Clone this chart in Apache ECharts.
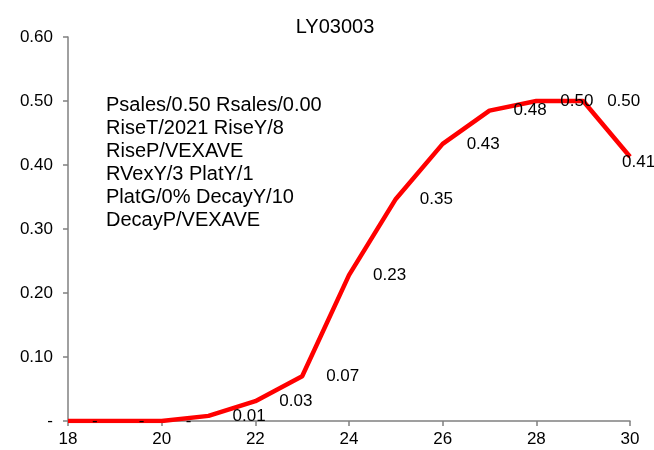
<!DOCTYPE html>
<html>
<head>
<meta charset="utf-8">
<script src="https://cdn.jsdelivr.net/npm/echarts@6/dist/echarts.min.js"></script>
<style>html,body{margin:0;padding:0;background:#fff}#c{width:654px;height:450px}</style>
</head>
<body>
<div id="c"></div>
<script>
var titleText = 'LY03003';
var years = [18, 19, 20, 21, 22, 23, 24, 25, 26, 27, 28, 29, 30];
var values = [0, 0, 0, 0.008, 0.031, 0.070, 0.228, 0.347, 0.433, 0.485, 0.500, 0.500, 0.413];
var noteLines = [
  'Psales/0.50 Rsales/0.00',
  'RiseT/2021 RiseY/8',
  'RiseP/VEXAVE',
  'RVexY/3 PlatY/1',
  'PlatG/0% DecayY/10',
  'DecayP/VEXAVE'
];
var yTicks = [0, 0.1, 0.2, 0.3, 0.4, 0.5, 0.6];

var FONT = '"Liberation Sans", Arial, sans-serif';
function fmt(v) { return Math.abs(v) < 1e-9 ? '-' : v.toFixed(2); }

var seriesData = years.map(function (x, i) {
  var item = { value: [x, values[i]] };
  if (i === years.length - 1) {
    item.label = { position: [-8, -3], align: 'left', verticalAlign: 'top' };
  }
  return item;
});

var chart = echarts.init(document.getElementById('c'), null, { renderer: 'canvas' });
chart.setOption({
  animation: false,
  backgroundColor: '#ffffff',
  title: {
    text: titleText,
    left: 330, top: 12, textAlign: 'center',
    textStyle: { fontFamily: FONT, fontSize: 20, fontWeight: 'normal', color: '#000' }
  },
  grid: { left: 68, top: 37, width: 562, height: 384 },
  xAxis: {
    type: 'value', min: 18, max: 30, interval: 2,
    axisLine: { lineStyle: { color: '#808080', width: 1.5 } },
    axisTick: { show: true, length: 5, lineStyle: { color: '#808080', width: 1.5 } },
    splitLine: { show: false },
    axisLabel: { fontFamily: FONT, fontSize: 17, color: '#000', margin: 10 }
  },
  yAxis: {
    type: 'value', min: 0, max: 0.6, interval: 0.1,
    axisLine: { show: true, lineStyle: { color: '#808080', width: 1.5 } },
    axisTick: { show: true, length: 5, lineStyle: { color: '#808080', width: 1.5 } },
    splitLine: { show: false },
    axisLabel: {
      fontFamily: FONT, fontSize: 17, color: '#000', margin: 15,
      formatter: function (v) {
        for (var i = 0; i < yTicks.length; i++) {
          if (Math.abs(v - yTicks[i]) < 1e-9) return fmt(yTicks[i]);
        }
        return '';
      }
    }
  },
  graphic: [{
    type: 'text',
    left: 106, top: 94,
    style: {
      text: noteLines.join('\n'),
      font: '20px ' + FONT,
      lineHeight: 23,
      fill: '#000'
    }
  }],
  series: [{
    type: 'line',
    data: seriesData,
    symbol: 'circle',
    symbolSize: 0,
    showSymbol: true,
    showAllSymbol: true,
    lineStyle: { color: '#ff0000', width: 4.5 },
    itemStyle: { color: '#ff0000' },
    label: {
      show: true, position: 'right', distance: 24,
      fontFamily: FONT, fontSize: 17, color: '#000',
      formatter: function (p) { return fmt(p.value[1]); }
    },
    labelLayout: { hideOverlap: false }
  }]
});
</script>
</body>
</html>
